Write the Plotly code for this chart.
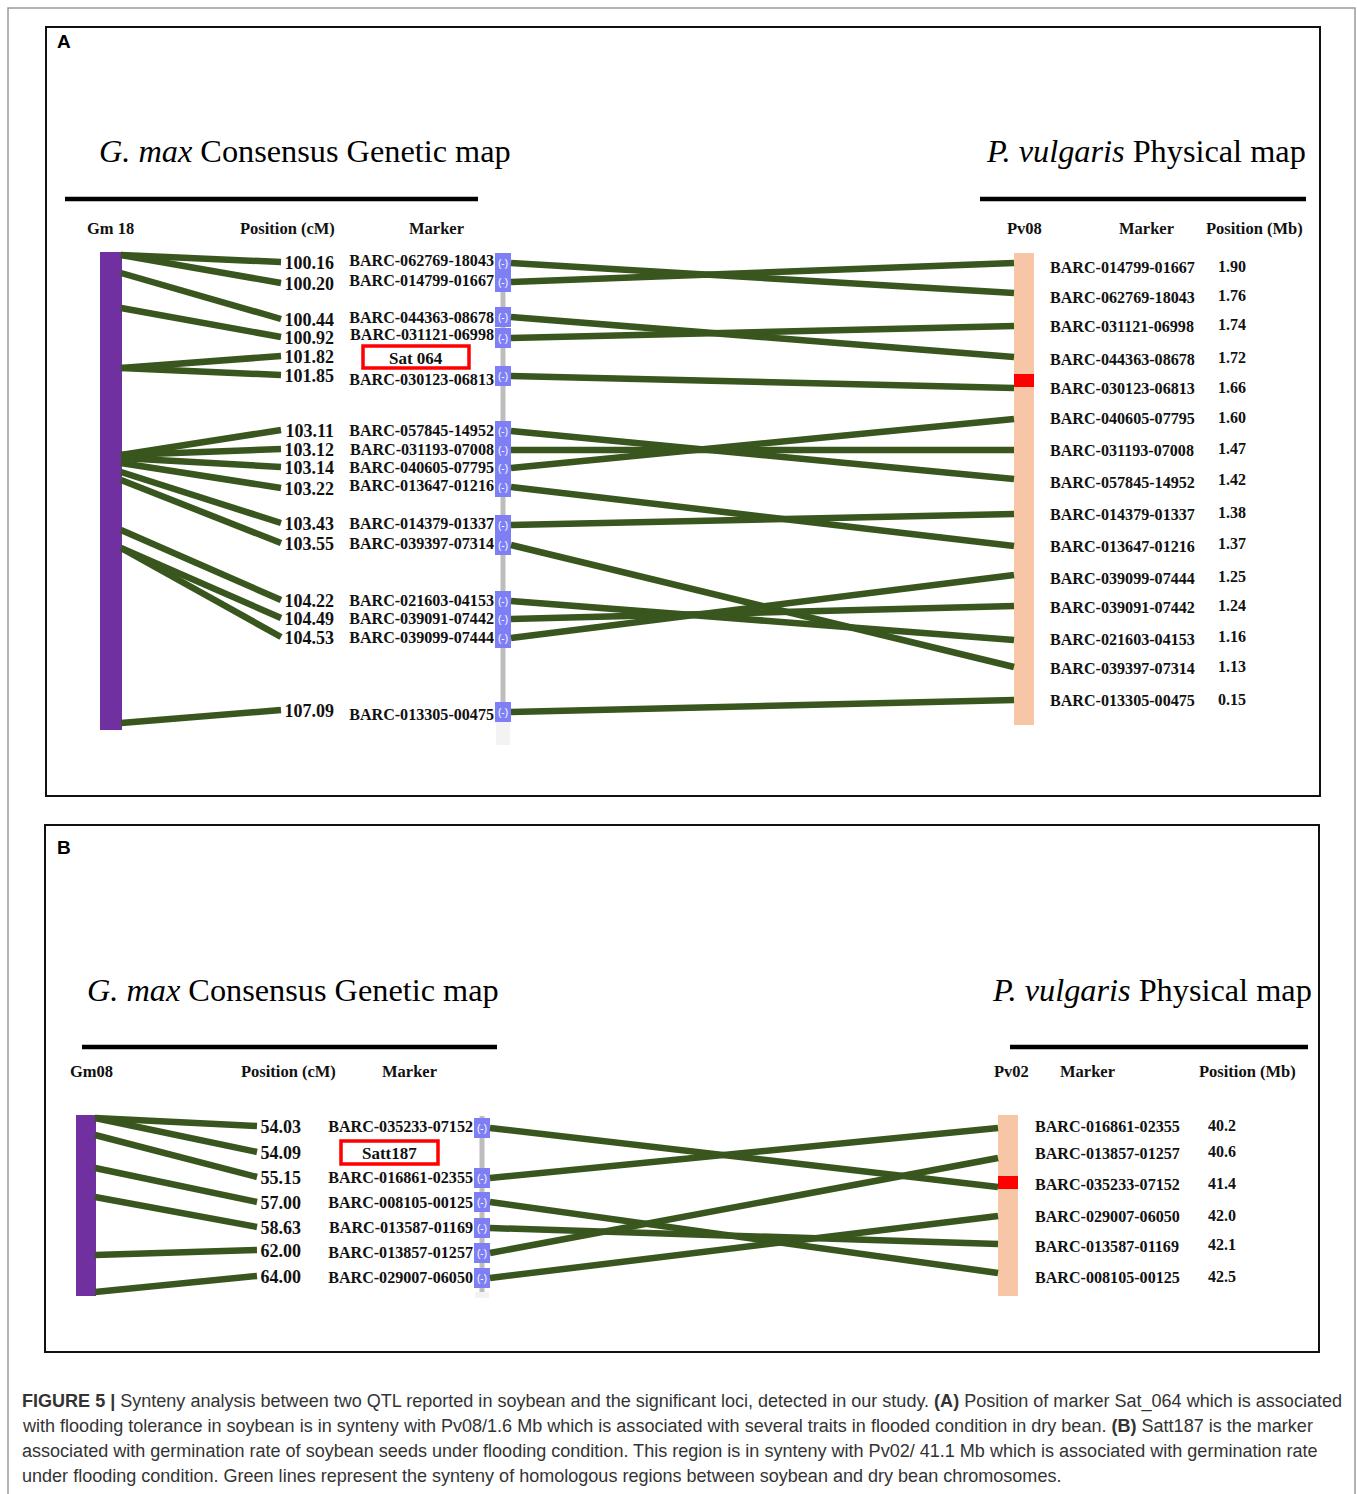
import plotly.graph_objects as go

W, H = 1357, 1494

# ---------------- DATA ----------------
# Panel A : Gm18 (soybean) vs Pv08 (dry bean)
gm18_markers = ["BARC-062769-18043", "BARC-014799-01667", "BARC-044363-08678", "BARC-031121-06998",
                "Sat 064", "BARC-030123-06813", "BARC-057845-14952", "BARC-031193-07008",
                "BARC-040605-07795", "BARC-013647-01216", "BARC-014379-01337", "BARC-039397-07314",
                "BARC-021603-04153", "BARC-039091-07442", "BARC-039099-07444", "BARC-013305-00475"]
gm18_cm = ["100.16", "100.20", "100.44", "100.92", "101.82", "101.85", "103.11", "103.12",
           "103.14", "103.22", "103.43", "103.55", "104.22", "104.49", "104.53", "107.09"]
pv08_markers = ["BARC-014799-01667", "BARC-062769-18043", "BARC-031121-06998", "BARC-044363-08678",
                "BARC-030123-06813", "BARC-040605-07795", "BARC-031193-07008", "BARC-057845-14952",
                "BARC-014379-01337", "BARC-013647-01216", "BARC-039099-07444", "BARC-039091-07442",
                "BARC-021603-04153", "BARC-039397-07314", "BARC-013305-00475"]
pv08_mb = ["1.90", "1.76", "1.74", "1.72", "1.66", "1.60", "1.47", "1.42",
           "1.38", "1.37", "1.25", "1.24", "1.16", "1.13", "0.15"]
qtl_A = "Sat 064"
hit_A = "BARC-030123-06813"

# Panel B : Gm08 (soybean) vs Pv02 (dry bean)
gm08_markers = ["BARC-035233-07152", "Satt187", "BARC-016861-02355", "BARC-008105-00125",
                "BARC-013587-01169", "BARC-013857-01257", "BARC-029007-06050"]
gm08_cm = ["54.03", "54.09", "55.15", "57.00", "58.63", "62.00", "64.00"]
pv02_markers = ["BARC-016861-02355", "BARC-013857-01257", "BARC-035233-07152",
                "BARC-029007-06050", "BARC-013587-01169", "BARC-008105-00125"]
pv02_mb = ["40.2", "40.6", "41.4", "42.0", "42.1", "42.5"]
qtl_B = "Satt187"
hit_B = "BARC-035233-07152"

caption_lines = [
    "<b>FIGURE 5 |</b> Synteny analysis between two QTL reported in soybean and the significant loci, detected in our study. <b>(A)</b> Position of marker Sat_064 which is associated",
    "with flooding tolerance in soybean is in synteny with Pv08/1.6 Mb which is associated with several traits in flooded condition in dry bean. <b>(B)</b> Satt187 is the marker",
    "associated with germination rate of soybean seeds under flooding condition. This region is in synteny with Pv02/ 41.1 Mb which is associated with germination rate",
    "under flooding condition. Green lines represent the synteny of homologous regions between soybean and dry bean chromosomes.",
]

# ---------------- LAYOUT (pixel rows / columns) ----------------
panelA = dict(
    box=(46, 27, 1320, 796), letter="A", letter_y=41,
    title_y=151, title_l_x=97, title_r_x=1308,
    rule_y=199, rule_l=(65, 478), rule_r=(980, 1306),
    head_y=228, gm_name="Gm 18", pv_name="Pv08",
    head_x=dict(gm=110, cm=287, mk=436, pv=1024, pmk=1146, pmb=1254),
    bar=(100, 122, 252, 730), pv=(1014, 1034, 253, 725), red=(374, 387),
    fan_end_x=281, cm_right=334, mk_right=494, blue=(495, 511), spine=(503, 253, 722, 745),
    pv_label_x=1050, mb_x=1232,
    cm_y=[262, 283, 319, 337, 356, 375, 430, 449, 467, 488, 523, 543, 600, 618, 637, 710],
    fan_y=[255, 255, 273, 308, 368, 368, 455, 455, 458, 463, 472, 480, 530, 548, 548, 723],
    mk_y=[260, 280, 317, 334, 357, 379, 430, 449, 467, 485, 523, 543, 600, 618, 637, 714],
    mkline_y=[263, 282, 317, 338, None, 376, 431, 450, 468, 487, 525, 545, 601, 619, 638, 712],
    pv_y=[267, 297, 326, 359, 388, 418, 450, 482, 514, 546, 578, 607, 639, 668, 700],
    mb_y=[266, 295, 324, 357, 387, 417, 448, 479, 512, 543, 576, 605, 636, 666, 699],
    pvline_y=[263, 293, 326, 357, 388, 419, 450, 479, 514, 546, 575, 606, 640, 667, 700],
    qbox=(363, 346, 469, 368),
)
panelB = dict(
    box=(45, 825, 1319, 1352), letter="B", letter_y=847,
    title_y=990, title_l_x=85, title_r_x=1314,
    rule_y=1047, rule_l=(82, 497), rule_r=(1010, 1308),
    head_y=1071, gm_name="Gm08", pv_name="Pv02",
    head_x=dict(gm=91, cm=288, mk=409, pv=1011, pmk=1087, pmb=1247),
    bar=(76, 96, 1115, 1296), pv=(998, 1018, 1115, 1296), red=(1176, 1189),
    fan_end_x=257, cm_right=301, mk_right=473, blue=(474, 490), spine=(482, 1116, 1292, 1298),
    pv_label_x=1035, mb_x=1222,
    cm_y=[1126, 1152, 1177, 1202, 1227, 1250, 1276],
    fan_y=[1118, 1118, 1135, 1168, 1197, 1255, 1292],
    mk_y=[1126, 1152, 1177, 1202, 1227, 1252, 1277],
    mkline_y=[1128, None, 1178, 1202, 1228, 1253, 1278],
    pv_y=[1126, 1153, 1184, 1216, 1246, 1277],
    mb_y=[1125, 1151, 1183, 1215, 1244, 1276],
    pvline_y=[1128, 1158, 1187, 1216, 1244, 1273],
    qbox=(341, 1141, 438, 1164),
)

GREEN = "#38561e"
PURPLE = "#7030a0"
PEACH = "#f6c6a6"
BLUE = "#7f7ff5"
SERIF = "Liberation Serif"
DY = 2  # scatter-text baseline correction (px)

fig = go.Figure()
shapes = []
annots = []


def note(x, y, text, xa, size, family=SERIF, color="#111"):
    annots.append(dict(x=x, y=y, text=text, xanchor=xa, yanchor="middle", showarrow=False,
                       font=dict(family=family, size=size, color=color)))


# outer frame
shapes.append(dict(type="rect", x0=8, y0=8, x1=1355, y1=1500, line=dict(color="#9a9a9a", width=1.5)))


def draw_panel(P, gm_markers, gm_cm, pv_markers, pv_mb, qtl, hit):
    x0, y0, x1, y1 = P["box"]
    shapes.append(dict(type="rect", x0=x0, y0=y0, x1=x1, y1=y1, line=dict(color="#111", width=2)))
    note(55, P["letter_y"], "<b>%s</b>" % P["letter"], "left", 19, family="Liberation Sans", color="#000")
    # titles
    note(P["title_l_x"], P["title_y"], "<i>G. max</i> Consensus Genetic map", "left", 32.3, color="#000")
    note(P["title_r_x"], P["title_y"], "<i>P. vulgaris</i> Physical map", "right", 32.3, color="#000")
    for (a, b) in (P["rule_l"], P["rule_r"]):
        shapes.append(dict(type="line", x0=a, x1=b, y0=P["rule_y"], y1=P["rule_y"],
                           line=dict(color="#000", width=4.5)))
    hx = P["head_x"]
    for key, txt in (("gm", P["gm_name"]), ("cm", "Position (cM)"), ("mk", "Marker"),
                     ("pv", P["pv_name"]), ("pmk", "Marker"), ("pmb", "Position (Mb)")):
        note(hx[key], P["head_y"], "<b>%s</b>" % txt, "center", 16.5)

    # chromosome bars
    bx0, bx1, by0, by1 = P["bar"]
    shapes.append(dict(type="rect", x0=bx0, x1=bx1, y0=by0, y1=by1, fillcolor=PURPLE, line=dict(width=0), layer="below"))
    px0, px1, py0, py1 = P["pv"]
    shapes.append(dict(type="rect", x0=px0, x1=px1, y0=py0, y1=py1, fillcolor=PEACH, line=dict(width=0), layer="below"))
    shapes.append(dict(type="rect", x0=px0, x1=px1, y0=P["red"][0], y1=P["red"][1], fillcolor="#ff0000",
                       line=dict(width=0), layer="below"))
    # marker spine
    sx, s0, s1, s2 = P["spine"]
    shapes.append(dict(type="line", x0=sx, x1=sx, y0=s0, y1=s1, line=dict(color="#bdbdbd", width=5), layer="below"))
    shapes.append(dict(type="line", x0=sx, x1=sx, y0=s1, y1=s2, line=dict(color="#f3f3f3", width=14), layer="below"))

    # fan lines (chromosome -> cM labels)
    lx, ly = [], []
    for i in range(len(gm_markers)):
        lx += [bx1 - 1, P["fan_end_x"], None]
        ly += [P["fan_y"][i], P["cm_y"][i], None]
    # synteny lines (marker boxes -> Pv bar)
    bl0, bl1 = P["blue"]
    blx, bly = [], []
    for i, m in enumerate(gm_markers):
        if m in pv_markers:
            j = pv_markers.index(m)
            lx += [bl1, px0, None]
            ly += [P["mkline_y"][i], P["pvline_y"][j], None]
            shapes.append(dict(type="rect", x0=bl0, x1=bl1, y0=P["mkline_y"][i] - 10, y1=P["mkline_y"][i] + 10,
                               fillcolor=BLUE, line=dict(width=0), layer="below"))
            blx.append((bl0 + bl1) / 2)
            bly.append(P["mkline_y"][i] + 1)
    fig.add_trace(go.Scatter(x=lx, y=ly, mode="lines", line=dict(color=GREEN, width=6.5),
                             hoverinfo="skip", showlegend=False))
    fig.add_trace(go.Scatter(x=blx, y=bly, mode="text", text=["(-)"] * len(blx),
                             textfont=dict(family="Liberation Sans", size=10, color="#ffffff"),
                             textposition="middle center", hoverinfo="skip", showlegend=False))

    # cM labels
    fig.add_trace(go.Scatter(x=[P["cm_right"]] * len(gm_cm), y=[y + DY for y in P["cm_y"]], mode="text",
                             text=["<b>%s</b>" % t for t in gm_cm], textposition="middle left",
                             textfont=dict(family=SERIF, size=18, color="#111"),
                             hoverinfo="skip", showlegend=False))
    # Gm markers (QTL marker drawn in a red box)
    mk_idx = [i for i, m in enumerate(gm_markers) if m != qtl]
    fig.add_trace(go.Scatter(x=[P["mk_right"]] * len(mk_idx), y=[P["mk_y"][i] + DY for i in mk_idx], mode="text",
                             text=["<b>%s</b>" % gm_markers[i] for i in mk_idx], textposition="middle left",
                             textfont=dict(family=SERIF, size=16.1, color="#111"),
                             hoverinfo="skip", showlegend=False))
    qx0, qy0, qx1, qy1 = P["qbox"]
    shapes.append(dict(type="rect", x0=qx0, x1=qx1, y0=qy0, y1=qy1, line=dict(color="#ff0000", width=3.5)))
    note((qx0 + qx1) / 2, (qy0 + qy1) / 2 + 1, "<b>%s</b>" % qtl, "center", 17)
    # Pv markers and positions
    fig.add_trace(go.Scatter(x=[P["pv_label_x"]] * len(pv_markers), y=[y + DY for y in P["pv_y"]], mode="text",
                             text=["<b>%s</b>" % t for t in pv_markers], textposition="middle right",
                             textfont=dict(family=SERIF, size=16.1, color="#111"),
                             hoverinfo="skip", showlegend=False))
    fig.add_trace(go.Scatter(x=[P["mb_x"]] * len(pv_mb), y=[y + DY for y in P["mb_y"]], mode="text",
                             text=["<b>%s</b>" % t for t in pv_mb], textposition="middle center",
                             textfont=dict(family=SERIF, size=16, color="#111"),
                             hoverinfo="skip", showlegend=False))


draw_panel(panelA, gm18_markers, gm18_cm, pv08_markers, pv08_mb, qtl_A, hit_A)
draw_panel(panelB, gm08_markers, gm08_cm, pv02_markers, pv02_mb, qtl_B, hit_B)

# caption
for k, line in enumerate(caption_lines):
    note(20, 1401 + 25 * k, line, "left", 18.05, family="Liberation Sans", color="#333")

fig.update_layout(
    width=W, height=H, margin=dict(l=0, r=0, t=0, b=0),
    paper_bgcolor="#ffffff", plot_bgcolor="#ffffff",
    xaxis=dict(range=[0, W], visible=False, fixedrange=True),
    yaxis=dict(range=[H, 0], visible=False, fixedrange=True),
    shapes=shapes, annotations=annots, showlegend=False,
)
fig.write_html("out.html", config=dict(displayModeBar=False),
               post_script="document.body.style.margin='0';document.body.style.overflow='hidden';")
